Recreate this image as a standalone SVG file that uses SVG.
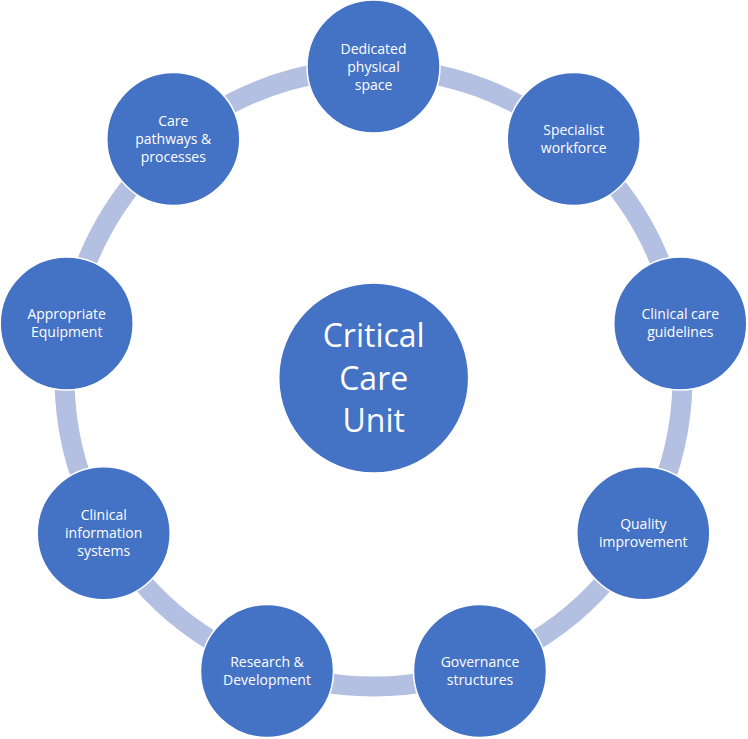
<svg xmlns="http://www.w3.org/2000/svg" width="748" height="739" viewBox="0 0 748 739">
<style>
.arc{fill:none;stroke:#B3C0E1;stroke-width:20}
.node{fill:#4472C4;stroke:#FFFFFF;stroke-width:1.5}
.t{font-family:"Open Sans","Liberation Sans",sans-serif;font-size:14px;fill:#FFFFFF;text-anchor:middle}
.tc{font-family:"Open Sans","Liberation Sans",sans-serif;font-size:32px;fill:#FFFFFF;text-anchor:middle}
</style>
<rect width="748" height="739" fill="#FFFFFF"/>
<g id="connectors">
<path class="arc" d="M416.5 71.5 A309 309 0 0 1 537.2 115.5"/>
<path class="arc" d="M603.1 170.7 A309 309 0 0 1 667.4 282.0"/>
<path class="arc" d="M682.3 366.7 A309 309 0 0 1 660.0 493.3"/>
<path class="arc" d="M617.0 567.7 A309 309 0 0 1 518.6 650.3"/>
<path class="arc" d="M437.7 679.7 A309 309 0 0 1 309.3 679.7"/>
<path class="arc" d="M228.4 650.3 A309 309 0 0 1 130.0 567.7"/>
<path class="arc" d="M87.0 493.3 A309 309 0 0 1 64.7 366.7"/>
<path class="arc" d="M79.6 282.0 A309 309 0 0 1 143.9 170.7"/>
<path class="arc" d="M209.8 115.5 A309 309 0 0 1 330.5 71.5"/>
</g>
<g id="center">
<circle class="node" cx="373.7" cy="378" r="95"/>
<text class="tc" x="373.7" y="347">Critical</text>
<text class="tc" x="373.7" y="389.5">Care</text>
<text class="tc" x="373.7" y="432">Unit</text>
</g>
<g id="dedicated">
<circle class="node" cx="373.5" cy="66.5" r="66.5"/>
<text class="t" x="373.5" y="53.5">Dedicated</text>
<text class="t" x="373.5" y="71.5">physical</text>
<text class="t" x="373.5" y="89.5">space</text>
</g>
<g id="specialist">
<circle class="node" cx="573.7" cy="138.9" r="66.5"/>
<text class="t" x="573.7" y="134.9">Specialist</text>
<text class="t" x="573.7" y="152.9">workforce</text>
</g>
<g id="guidelines">
<circle class="node" cx="680.3" cy="323.4" r="66.5"/>
<text class="t" x="680.3" y="319.4">Clinical care</text>
<text class="t" x="680.3" y="337.4">guidelines</text>
</g>
<g id="quality">
<circle class="node" cx="643.3" cy="533.3" r="66.5"/>
<text class="t" x="643.3" y="529.3">Quality</text>
<text class="t" x="643.3" y="547.3">improvement</text>
</g>
<g id="governance">
<circle class="node" cx="480.0" cy="671" r="66.5"/>
<text class="t" x="480.0" y="667">Governance</text>
<text class="t" x="480.0" y="685">structures</text>
</g>
<g id="research">
<circle class="node" cx="267.0" cy="671" r="66.5"/>
<text class="t" x="267.0" y="667">Research &amp;</text>
<text class="t" x="267.0" y="685">Development</text>
</g>
<g id="information">
<circle class="node" cx="103.7" cy="533.3" r="66.5"/>
<text class="t" x="103.7" y="520.3">Clinical</text>
<text class="t" x="103.7" y="538.3">information</text>
<text class="t" x="103.7" y="556.3">systems</text>
</g>
<g id="equipment">
<circle class="node" cx="66.7" cy="323.4" r="66.5"/>
<text class="t" x="66.7" y="319.4">Appropriate</text>
<text class="t" x="66.7" y="337.4">Equipment</text>
</g>
<g id="pathways">
<circle class="node" cx="173.3" cy="138.9" r="66.5"/>
<text class="t" x="173.3" y="125.9">Care</text>
<text class="t" x="173.3" y="143.9">pathways &amp;</text>
<text class="t" x="173.3" y="161.9">processes</text>
</g>
</svg>
